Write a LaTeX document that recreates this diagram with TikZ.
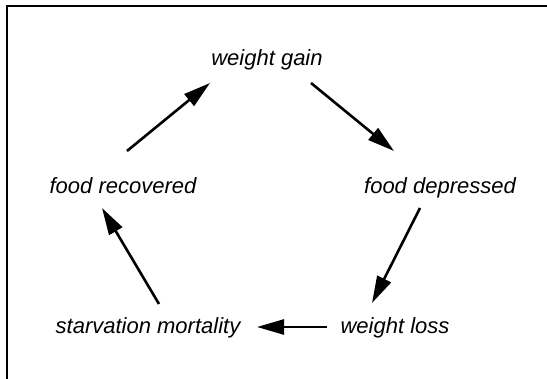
\documentclass[tikz,border=0pt]{standalone}
\usepackage{fontspec}
\setmainfont{Liberation Sans}
\usetikzlibrary{arrows.meta,calc}
\begin{document}
\begin{tikzpicture}[x=1pt,y=-1pt,
  lbl/.style={anchor=base,inner sep=0pt,font=\fontsize{22}{26}\selectfont\itshape},
  conn/.style={line width=2.6pt,-{Triangle[length=27pt,width=15pt]}},
  frame/.style={line width=1.6pt}]
\useasboundingbox (0,0) rectangle (547,379);
\draw[frame] (7,379) -- (7,6) -- (547,6);
\node[lbl] (wg) at (267,66) {weight gain};
\node[lbl] (fr) at (123,194) {food recovered};
\node[lbl] (fd) at (440,194) {food depressed};
\node[lbl] (ss) at (148,334) {starvation mortality};
\node[lbl] (wl) at (395,334) {weight loss};
\draw[conn] ($(fr.base)+(4,-43)$) -- ($(wg.base)+(-57,17)$);
\draw[conn] ($(wg.base)+(44,17)$) -- ($(fd.base)+(-46,-43)$);
\draw[conn] ($(fd.base)+(-20,14)$) -- ($(wl.base)+(-23,-31)$);
\draw[conn] ($(wl.base)+(-68,-7)$) -- ($(ss.base)+(109,-7)$);
\draw[conn] ($(ss.base)+(11,-30)$) -- ($(fr.base)+(-21,14)$);
\end{tikzpicture}
\end{document}
